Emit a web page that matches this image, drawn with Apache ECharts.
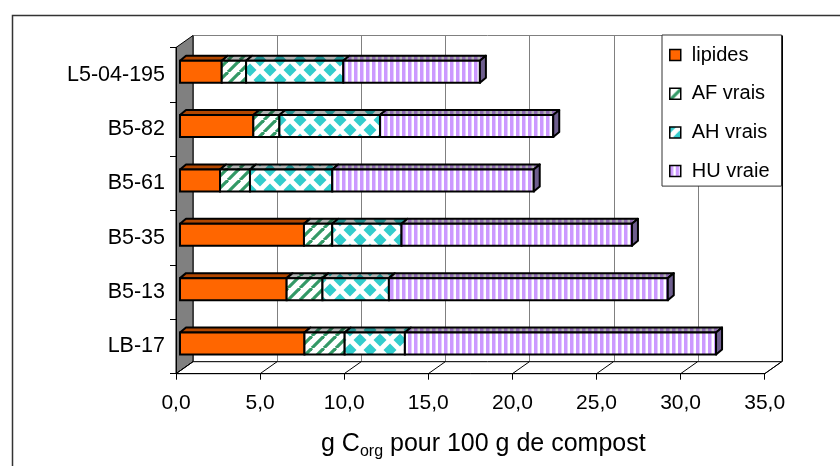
<!DOCTYPE html>
<html>
<head>
<meta charset="utf-8">
<script src="https://cdn.jsdelivr.net/npm/echarts@6/dist/echarts.min.js"></script>
<style>
  html, body { margin: 0; padding: 0; background: #fff; }
  #chart { width: 840px; height: 466px; }
</style>
</head>
<body>
<div id="chart"></div>
<script>
// Samples, listed from the bottom bar to the top bar
const categories = ['LB-17', 'B5-13', 'B5-35', 'B5-61', 'B5-82', 'L5-04-195'];

// g C org / 100 g compost, per fraction
const lipides = [7.40, 6.34, 7.37, 2.38, 4.36, 2.48];
const afVrais = [2.39, 2.13, 1.68, 1.78, 1.55, 1.45];
const ahVrais = [3.58, 3.95, 4.12, 4.89, 5.98, 5.78];
const huVraie = [18.50, 16.58, 13.70, 11.98, 10.30, 8.12];

const seriesNames = ['lipides', 'AF vrais', 'AH vrais', 'HU vraie'];
const xTicks = [0, 5, 10, 15, 20, 25, 30, 35];

const FONT = "'Liberation Sans', Arial, sans-serif";
const WALL_DEPTH = [17, -12];   // front plane -> back wall
const BAR_SHIFT = [4, -3];      // front plane -> bar front faces
const BAR_DEPTH = [6, -5];      // thickness of each bar
const BAR_RATIO = 0.405;

function makeTile(w, h, draw) {
  const c = document.createElement('canvas');
  c.width = w; c.height = h;
  draw(c.getContext('2d'), w, h);
  return c;
}

const fills = [
  '#FF6600',
  { image: makeTile(12, 12, (g, w, h) => {
      g.fillStyle = '#fff'; g.fillRect(0, 0, w, h);
      g.strokeStyle = '#339966'; g.lineWidth = 3.2;
      for (const o of [-w, 0, w]) { g.beginPath(); g.moveTo(o, h); g.lineTo(o + w, 0); g.stroke(); }
    }), repeat: 'repeat' },
  { image: makeTile(20, 20, (g, w, h) => {
      g.fillStyle = '#fff'; g.fillRect(0, 0, w, h);
      g.fillStyle = '#33CCCC';
      const diamond = (cx, cy, r) => {
        g.beginPath(); g.moveTo(cx, cy - r); g.lineTo(cx + r, cy);
        g.lineTo(cx, cy + r); g.lineTo(cx - r, cy); g.closePath(); g.fill();
      };
      diamond(10, 10, 6.5);
      for (const [x, y] of [[0, 0], [20, 0], [0, 20], [20, 20]]) diamond(x, y, 6.5);
    }), repeat: 'repeat' },
  { image: makeTile(6, 6, (g, w, h) => {
      g.fillStyle = '#fff'; g.fillRect(0, 0, w, h);
      g.fillStyle = '#CC99FF'; g.fillRect(0, 0, 3, h);
      g.fillStyle = '#E2CCFF'; g.fillRect(3, 0, 1, h);
    }), repeat: 'repeat' }
];

const stacks = [lipides, afVrais, ahVrais, huVraie];
const segData = stacks.map((vals, si) => vals.map((v, ci) => {
  let start = 0;
  for (let k = 0; k < si; k++) start += stacks[k][ci];
  return [start, start + v, ci, v];
}));

function segRenderer(si) {
  const last = si === stacks.length - 1;
  return function (params, api) {
    const a = api.coord([api.value(0), api.value(2)]);
    const b = api.coord([api.value(1), api.value(2)]);
    const h = api.size([0, 1])[1] * BAR_RATIO;
    const x0 = a[0] + BAR_SHIFT[0], x1 = b[0] + BAR_SHIFT[0];
    const yt = a[1] + BAR_SHIFT[1] - h / 2, yb = yt + h;
    const dx = BAR_DEPTH[0], dy = BAR_DEPTH[1];
    const fill = fills[si];
    const top = [[x0, yt], [x0 + dx, yt + dy], [x1 + dx, yt + dy], [x1, yt]];
    const children = [
      { type: 'polygon', shape: { points: top }, style: { fill: fill } },
      { type: 'polygon', shape: { points: top },
        style: { fill: 'rgba(0,0,0,0.3)', stroke: '#000', lineWidth: 2, lineJoin: 'round' } },
      { type: 'rect', shape: { x: x0, y: yt, width: x1 - x0, height: h },
        style: { fill: fill, stroke: '#000', lineWidth: 2 } }
    ];
    if (last) {
      children.push({ type: 'polygon',
        shape: { points: [[x1, yt], [x1 + dx, yt + dy], [x1 + dx, yb + dy], [x1, yb]] },
        style: { fill: '#6E5E8E', stroke: '#000', lineWidth: 2, lineJoin: 'round' } });
    }
    return { type: 'group', children: children };
  };
}

// Walls and floor of the 3D box, built from the grid and the x scale
function boxRenderer(params, api) {
  const cs = params.coordSys;
  const gx = cs.x, gy = cs.y, gw = cs.width, gh = cs.height;
  const dx = WALL_DEPTH[0], dy = WALL_DEPTH[1];
  const children = [];
  children.push({ type: 'rect', shape: { x: gx + dx, y: gy + dy, width: gw, height: gh },
    style: { fill: '#fff', stroke: '#808080', lineWidth: 1 } });
  xTicks.forEach(v => {
    const x = Math.round(api.coord([v, 0])[0] + dx) + 0.5;
    children.push({ type: 'line', shape: { x1: x, y1: gy + dy, x2: x, y2: gy + gh + dy },
      style: { stroke: v === xTicks[xTicks.length - 1] ? '#000' : '#808080', lineWidth: 1 } });
  });
  children.push({ type: 'polygon',
    shape: { points: [[gx, gy], [gx + dx, gy + dy], [gx + dx, gy + gh + dy], [gx, gy + gh]] },
    style: { fill: '#808080', stroke: '#000', lineWidth: 1 } });
  children.push({ type: 'polygon',
    shape: { points: [[gx, gy + gh], [gx + dx, gy + gh + dy], [gx + gw + dx, gy + gh + dy], [gx + gw, gy + gh]] },
    style: { fill: '#fff', stroke: '#000', lineWidth: 1 } });
  xTicks.forEach(v => {
    const x = api.coord([v, 0])[0];
    children.push({ type: 'line', shape: { x1: x, y1: gy + gh, x2: x + dx, y2: gy + gh + dy },
      style: { stroke: '#000', lineWidth: 1 } });
  });
  return { type: 'group', children: children };
}

const chart = echarts.init(document.getElementById('chart'), null, { renderer: 'canvas' });

const series = [{
  name: 'box', type: 'custom', silent: true, z: 1,
  renderItem: boxRenderer, data: [[0, 0]], encode: { x: 0, y: 1 }
}];
seriesNames.forEach((name, si) => {
  series.push({
    name: name, type: 'custom', z: 2,
    renderItem: segRenderer(si),
    itemStyle: { color: fills[si], borderColor: '#000', borderWidth: 1.5 },
    encode: { x: [0, 1], y: 2 },
    data: segData[si]
  });
});

chart.setOption({
  animation: false,
  backgroundColor: '#fff',
  graphic: [{
    type: 'rect', left: 10, top: 13, z: 0,
    shape: { width: 900, height: 500 },
    style: { fill: 'none', stroke: '#333', lineWidth: 1.5 }
  }],
  grid: { left: 176, top: 47.5, width: 588.7, height: 326.2 },
  xAxis: {
    type: 'value', min: 0, max: 35, interval: 5, z: 5,
    splitLine: { show: false },
    axisLine: { show: true, lineStyle: { color: '#000', width: 1 } },
    axisTick: { show: true, length: 6, lineStyle: { color: '#000' } },
    axisLabel: {
      margin: 19, fontSize: 21, color: '#000', fontFamily: FONT,
      formatter: v => v.toFixed(1).replace('.', ',')
    },
    name: '{t|g C}{s|org}{t| pour 100 g de compost}',
    nameLocation: 'middle', nameGap: 56,
    nameTextStyle: {
      padding: [0, 0, 0, 26],
      rich: {
        t: { fontSize: 25, color: '#000', fontFamily: FONT, lineHeight: 28, verticalAlign: 'middle' },
        s: { fontSize: 16, color: '#000', fontFamily: FONT, lineHeight: 16, verticalAlign: 'top', padding: [14, 0, 0, 0] }
      }
    }
  },
  yAxis: {
    type: 'category', data: categories, z: 5,
    axisLine: { show: true, lineStyle: { color: '#000', width: 1 } },
    axisTick: { show: true, length: 6, lineStyle: { color: '#000' } },
    axisLabel: { margin: 11, fontSize: 21.5, color: '#000', fontFamily: FONT },
    splitLine: { show: false }
  },
  legend: {
    data: seriesNames, orient: 'vertical', left: 662, top: 35, z: 10,
    padding: [10, 12, 5, 7], itemWidth: 11, itemHeight: 11, itemGap: 18.7,
    borderColor: '#333', borderWidth: 1, backgroundColor: '#fff',
    icon: 'rect',
    itemStyle: { borderColor: '#000', borderWidth: 1.5 },
    textStyle: { fontSize: 20, fontFamily: FONT, color: '#000', lineHeight: 20, padding: [0, 0, 0, 6] }
  },
  series: series
});
</script>
</body>
</html>
